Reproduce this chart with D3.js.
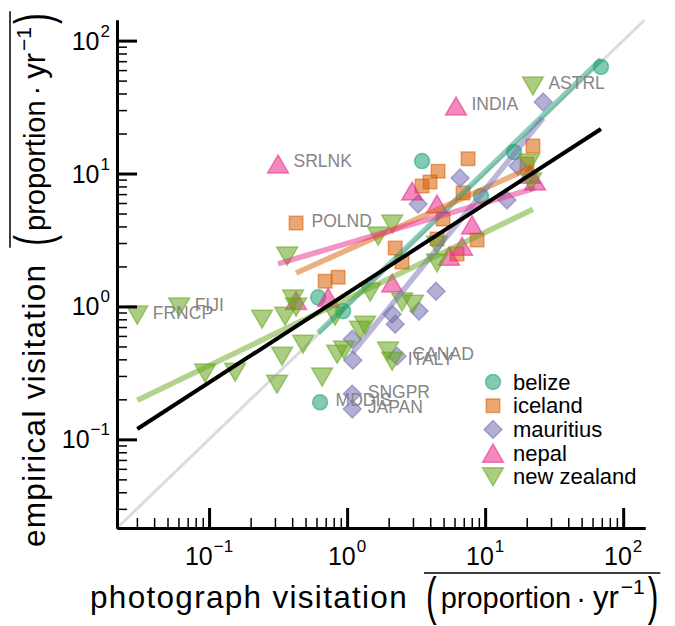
<!DOCTYPE html>
<html><head><meta charset="utf-8">
<script src="https://cdn.jsdelivr.net/npm/d3@7"></script>
<style>
body{margin:0;background:#fff}
svg{display:block}
text{font-family:"Liberation Sans",Arial,Helvetica,sans-serif}
</style>
</head><body>
<svg id="chart" width="675" height="626"></svg>
<script>
// ---------- data ----------
const countries = ["belize", "iceland", "mauritius", "nepal", "new zealand"];
const colors = ["#1b9e77", "#d95f02", "#7570b3", "#e7298a", "#66a61e"];

const belizeX = [69.0, 3.49, 16.2, 9.34, 0.617, 0.936, 0.637];
const belizeY = [63.4, 12.4, 14.5, 6.77, 1.17, 0.922, 0.190];

const icelandX = [0.427, 0.693, 0.861, 2.23, 2.50, 3.49, 3.99, 4.56, 7.52, 22.2, 20.1, 6.92, 4.96, 4.48, 6.26, 8.74];
const icelandY = [4.24, 1.55, 1.66, 2.75, 2.16, 8.05, 8.63, 10.4, 12.9, 16.1, 11.8, 7.13, 4.54, 3.21, 2.48, 3.16];

const mauritiusX = [26.3, 6.58, 17.3, 3.27, 14.4, 4.41, 2.12, 3.32, 2.23, 1.09, 1.10, 2.30, 1.09, 1.09];
const mauritiusY = [34.5, 9.25, 11.4, 5.89, 6.31, 1.30, 0.875, 0.922, 0.736, 0.567, 0.394, 0.422, 0.219, 0.169];

const nepalX = [0.316, 6.15, 2.96, 4.48, 8.04, 6.80, 5.48, 2.12, 0.729, 0.427, 23.0, 21.0];
const nepalY = [11.8, 32.2, 7.38, 5.89, 4.10, 2.84, 2.39, 1.50, 1.17, 1.11, 8.78, 9.9];

const newZealandX = [22.2, 0.0302, 0.0607, 0.0937, 0.1545, 0.242, 0.356, 0.406, 0.427, 0.480, 0.338, 0.311, 0.659, 0.819, 0.847, 0.951, 1.24, 1.35, 1.47, 1.98, 2.12, 2.50, 3.00, 0.368, 1.68, 2.12, 4.48, 4.48, 20.8, 21.5];
const newZealandY = [45.6, 0.860, 0.988, 0.315, 0.320, 0.802, 0.845, 1.135, 0.988, 0.520, 0.422, 0.260, 0.294, 0.845, 0.437, 0.469, 0.663, 0.723, 1.28, 0.461, 0.387, 1.08, 1.04, 2.39, 3.38, 4.17, 2.89, 2.12, 12.0, 8.63];

// log-log fits: log10(y) = intercept + slope * log10(x)
const fitIntercept = [0.011, 0.424, -0.40, 0.474, 0.056];
const fitSlope = [1.004, 0.466, 1.28, 0.306, 0.501];
const overallIntercept = 0.099;
const overallSlope = 0.672;

// point labels: name, series index, point index
const labelNames = ["SRLNK", "POLND", "INDIA", "ASTRL", "FRNCP", "FIJI", "CANAD", "ITALY", "SNGPR", "JAPAN", "MDDIS"];
const labelSeries = [3, 1, 3, 4, 4, 4, 2, 4, 2, 2, 0];
const labelPoint = [0, 0, 1, 0, 1, 2, 11, 20, 12, 13, 6];

const tickExponents = [-1, 0, 1, 2];
const xLabelWord = "photograph visitation";
const yLabelWord = "empirical visitation";

// ---------- setup ----------
const seriesX = [belizeX, icelandX, mauritiusX, nepalX, newZealandX];
const seriesY = [belizeY, icelandY, mauritiusY, nepalY, newZealandY];
const series = countries.map((c, i) => ({
  name: c, color: colors[i], idx: i,
  points: seriesX[i].map((x, j) => ({x, y: seriesY[i][j]}))
}));

const svg = d3.select("#chart");
const x = d3.scaleLog().domain([0.02153, 143.9]).range([117, 645]);
const y = d3.scaleLog().domain([0.02153, 142.9]).range([528, 20]);

// marker shapes (matplotlib-like)
const shapeCircle = d3.symbolCircle;
const shapeSquare = {draw(ctx, s) { const h = Math.sqrt(s) / 2; ctx.rect(-h, -h, 2 * h, 2 * h); }};
const shapeDiamond = {draw(ctx, s) { const h = Math.sqrt(s) / 2 * Math.SQRT2; ctx.moveTo(0, -h); ctx.lineTo(h, 0); ctx.lineTo(0, h); ctx.lineTo(-h, 0); ctx.closePath(); }};
const shapeTriUp = {draw(ctx, s) { const w = Math.sqrt(s) * 0.72, hh = Math.sqrt(s) * 0.62; ctx.moveTo(0, -hh); ctx.lineTo(w, hh); ctx.lineTo(-w, hh); ctx.closePath(); }};
const shapeTriDown = {draw(ctx, s) { const w = Math.sqrt(s) * 0.72, hh = Math.sqrt(s) * 0.62; ctx.moveTo(0, hh); ctx.lineTo(w, -hh); ctx.lineTo(-w, -hh); ctx.closePath(); }};
const shapes = [shapeCircle, shapeSquare, shapeDiamond, shapeTriUp, shapeTriDown];
const sizes = [177, 182, 160, 212, 212];

const plot = svg.append("g");

// 1:1 line
plot.append("line")
  .attr("x1", x(0.02153)).attr("y1", y(0.02153))
  .attr("x2", x(142.9)).attr("y2", y(142.9))
  .attr("stroke", "#dcdcdc").attr("stroke-width", 3);

// scatter points
series.forEach(s => {
  plot.append("g").selectAll("path").data(s.points).join("path")
    .attr("transform", d => `translate(${x(d.x)},${y(d.y)})`)
    .attr("d", d3.symbol().type(shapes[s.idx]).size(sizes[s.idx]))
    .attr("fill", s.color).attr("fill-opacity", 0.55)
    .attr("stroke", s.color).attr("stroke-opacity", 0.55).attr("stroke-width", 1.5);
});

// fit lines
const fitLine = (a, b) => d3.line()
  .x(v => x(v))
  .y(v => y(Math.pow(10, a + b * Math.log10(v))));
series.forEach(s => {
  const ext = d3.extent(s.points, d => d.x);
  plot.append("path")
    .attr("d", fitLine(fitIntercept[s.idx], fitSlope[s.idx])(ext))
    .attr("fill", "none").attr("stroke", s.color)
    .attr("stroke-opacity", 0.5).attr("stroke-width", 5.5);
});
const allExt = d3.extent(series.flatMap(s => s.points), d => d.x);
plot.append("path")
  .attr("d", fitLine(overallIntercept, overallSlope)(allExt))
  .attr("fill", "none").attr("stroke", "#000").attr("stroke-width", 4);

// point labels
labelNames.forEach((name, k) => {
  const p = series[labelSeries[k]].points[labelPoint[k]];
  plot.append("text")
    .attr("x", x(p.x) + 15.5).attr("y", y(p.y) + 3.5)
    .attr("fill", "#858585").style("font-size", "17.5px")
    .text(name);
});

// ---------- axes ----------
const majors = tickExponents.map(e => Math.pow(10, e));
const minors = [];
for (let e = -2; e <= 2; e++) for (let m = 2; m <= 9; m++) {
  const v = m * Math.pow(10, e);
  if (v > 0.02153 && v < 142.9) minors.push(v);
}
function styleAxis(g, w) {
  g.select(".domain").attr("stroke", "#000").attr("stroke-width", 3);
  g.selectAll(".tick line").attr("stroke", "#000").attr("stroke-width", w);
  g.selectAll(".tick text").remove();
}
svg.append("g").attr("transform", "translate(0,528)")
  .call(d3.axisBottom(x).tickValues(minors).tickSizeInner(-10).tickSizeOuter(0).tickFormat(""))
  .call(g => styleAxis(g, 1.5));
svg.append("g").attr("transform", "translate(0,528)")
  .call(d3.axisBottom(x).tickValues(majors).tickSizeInner(-20).tickSizeOuter(0).tickFormat(""))
  .call(g => styleAxis(g, 3));
svg.append("g").attr("transform", "translate(117,0)")
  .call(d3.axisLeft(y).tickValues(minors).tickSizeInner(-10).tickSizeOuter(0).tickFormat(""))
  .call(g => styleAxis(g, 1.5));
svg.append("g").attr("transform", "translate(117,0)")
  .call(d3.axisLeft(y).tickValues(majors).tickSizeInner(-20).tickSizeOuter(0).tickFormat(""))
  .call(g => styleAxis(g, 3));

const expText = e => (e < 0 ? "\u2212" : "") + Math.abs(e);
tickExponents.forEach(e => {
  const v = Math.pow(10, e);
  const tx = svg.append("text").attr("x", x(v)).attr("y", 565)
    .attr("text-anchor", "middle").style("font-size", "25px").attr("fill", "#000");
  tx.append("tspan").text("10");
  tx.append("tspan").attr("dy", -13).attr("dx", 1).style("font-size", "17px").text(expText(e));
  const ty = svg.append("text").attr("x", 110).attr("y", y(v) + 9)
    .attr("text-anchor", "end").style("font-size", "25px").attr("fill", "#000");
  ty.append("tspan").text("10");
  ty.append("tspan").attr("dy", -13).attr("dx", 1).style("font-size", "17px").text(expText(e));
});

// axis labels with math part
function mathLabel(g, word) {
  let cx = 0;
  const t1 = g.append("text").attr("x", 0).attr("y", 0)
    .style("font-size", "31.5px").style("letter-spacing", "1.3px").text(word);
  cx += t1.node().getComputedTextLength() + 18;
  const parenStart = cx;
  const lp = g.append("text").attr("transform", `translate(${cx},-7) scale(1,1.6)`)
    .attr("y", 8).style("font-size", "32px").text("(");
  cx += lp.node().getComputedTextLength() + 4;
  const m = g.append("text").attr("x", cx).attr("y", 0).style("font-size", "29px");
  m.append("tspan").text("proportion");
  m.append("tspan").attr("dx", 5).text("\u00b7");
  m.append("tspan").attr("dx", 7).style("font-size", "31px").text("yr");
  m.append("tspan").attr("dy", -14).attr("dx", 2).style("font-size", "21px").text("\u22121");
  const bb = m.node().getBBox();
  cx = bb.x + bb.width + 3;
  const rp = g.append("text").attr("transform", `translate(${cx},-7) scale(1,1.6)`)
    .attr("y", 8).style("font-size", "32px").text(")");
  cx += rp.node().getComputedTextLength();
  g.append("line").attr("x1", parenStart - 2).attr("x2", cx + 2)
    .attr("y1", -35).attr("y2", -35).attr("stroke", "#000").attr("stroke-width", 1.5);
}
mathLabel(svg.append("g").attr("transform", "translate(90,608)"), xLabelWord);
mathLabel(svg.append("g").attr("transform", "translate(45,547) rotate(-90)"), yLabelWord);

// legend
const legend = svg.append("g");
series.forEach((s, i) => {
  const ly = 382 + i * 23.7;
  legend.append("path")
    .attr("transform", `translate(493,${ly})`)
    .attr("d", d3.symbol().type(shapes[i]).size(sizes[i]))
    .attr("fill", s.color).attr("fill-opacity", 0.55)
    .attr("stroke", s.color).attr("stroke-opacity", 0.55).attr("stroke-width", 1.5);
  legend.append("text").attr("x", 513).attr("y", ly + 7.5)
    .style("font-size", "22px").attr("fill", "#000").text(s.name);
});
</script>
</body></html>
